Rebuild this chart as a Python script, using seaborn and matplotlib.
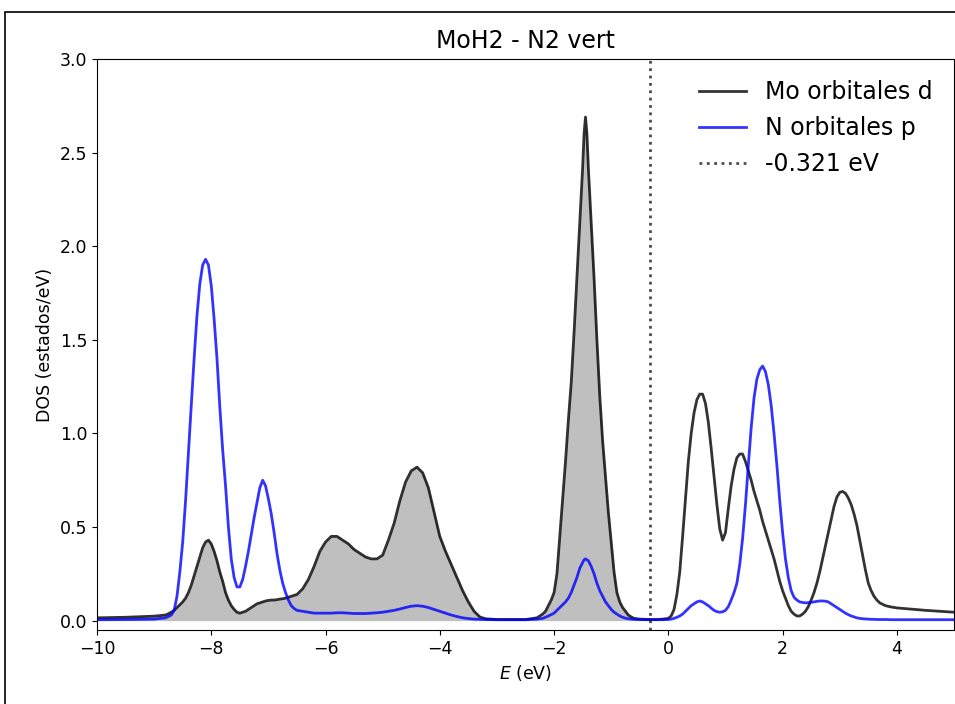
import matplotlib
matplotlib.use("Agg")
import matplotlib.pyplot as plt
import seaborn as sns
import numpy as np
from matplotlib.patches import Rectangle

# ---- data ----
energy = [
    -10.0, -9.5, -9.0, -8.8, -8.75,
    -8.70, -8.65, -8.60, -8.55, -8.50, -8.45, -8.40, -8.35, -8.30, -8.25,
    -8.20, -8.15, -8.10, -8.05, -8.00, -7.95, -7.90, -7.85, -7.80, -7.75,
    -7.70, -7.65, -7.60, -7.55, -7.50, -7.45, -7.40, -7.35, -7.30, -7.25,
    -7.20, -7.15, -7.10, -7.05, -7.00, -6.95, -6.90, -6.85, -6.80, -6.75,
    -6.70, -6.65, -6.60, -6.55, -6.50,
    -6.4, -6.3, -6.2, -6.1, -6.0, -5.9, -5.8, -5.7, -5.6, -5.5,
    -5.4, -5.3, -5.2, -5.1, -5.0, -4.9, -4.8, -4.7, -4.6, -4.5,
    -4.4, -4.3, -4.2, -4.1, -4.0, -3.9, -3.8, -3.7, -3.6, -3.5,
    -3.4, -3.3, -3.2,
    -3.0, -2.5, -2.3, -2.25,
    -2.20, -2.15, -2.10, -2.05, -2.00, -1.95, -1.90, -1.85, -1.80, -1.75,
    -1.70, -1.65, -1.60, -1.55, -1.50, -1.475, -1.45, -1.425, -1.40, -1.35,
    -1.30, -1.25, -1.20, -1.15, -1.10, -1.05, -1.00, -0.95, -0.90, -0.85,
    -0.80, -0.75, -0.70, -0.65, -0.60,
    -0.5, -0.321, -0.2, -0.1,
    0.00, 0.05, 0.10, 0.15, 0.20, 0.25, 0.30, 0.35, 0.40, 0.45,
    0.50, 0.55, 0.60, 0.65, 0.70, 0.75, 0.80, 0.85, 0.90, 0.95,
    1.00, 1.05, 1.10, 1.15, 1.20, 1.25, 1.30, 1.35, 1.40, 1.45,
    1.50, 1.55, 1.60, 1.65, 1.70, 1.75, 1.80, 1.85, 1.90, 1.95,
    2.00, 2.05, 2.10, 2.15, 2.20, 2.25, 2.30, 2.35, 2.40, 2.45,
    2.50, 2.55, 2.60, 2.65, 2.70, 2.75, 2.80, 2.85, 2.90, 2.95,
    3.00, 3.05, 3.10, 3.15, 3.20, 3.25, 3.30, 3.35, 3.40, 3.45,
    3.50, 3.55, 3.60, 3.65, 3.70,
    3.8, 3.9, 4.0, 4.5, 5.0,
]

mo_d = [
    0.015, 0.018, 0.024, 0.03, 0.037,
    0.045, 0.055, 0.07, 0.085, 0.10, 0.12, 0.15, 0.19, 0.24, 0.29,
    0.34, 0.39, 0.42, 0.43, 0.41, 0.37, 0.32, 0.26, 0.21, 0.15,
    0.11, 0.08, 0.06, 0.045, 0.04, 0.045, 0.05, 0.06, 0.07, 0.08,
    0.09, 0.095, 0.10, 0.105, 0.108, 0.11, 0.11, 0.112, 0.115, 0.117,
    0.12, 0.125, 0.13, 0.135, 0.14,
    0.17, 0.22, 0.29, 0.37, 0.42, 0.45, 0.45, 0.43, 0.41, 0.38,
    0.36, 0.34, 0.33, 0.33, 0.35, 0.43, 0.52, 0.64, 0.74, 0.80,
    0.82, 0.79, 0.71, 0.58, 0.45, 0.37, 0.30, 0.23, 0.16, 0.10,
    0.05, 0.02, 0.01,
    0.006, 0.006, 0.015, 0.025,
    0.035, 0.05, 0.08, 0.11, 0.15, 0.25, 0.45, 0.65, 0.85, 1.07,
    1.27, 1.54, 1.83, 2.12, 2.42, 2.60, 2.69, 2.60, 2.42, 2.12,
    1.83, 1.50, 1.20, 0.96, 0.77, 0.58, 0.42, 0.26, 0.15, 0.10,
    0.07, 0.05, 0.03, 0.02, 0.012,
    0.008, 0.006, 0.006, 0.008,
    0.012, 0.025, 0.06, 0.14, 0.26, 0.45, 0.65, 0.85, 1.00, 1.11,
    1.18, 1.21, 1.21, 1.16, 1.06, 0.92, 0.77, 0.62, 0.49, 0.43,
    0.47, 0.60, 0.72, 0.81, 0.87, 0.89, 0.89, 0.85, 0.80, 0.75,
    0.69, 0.64, 0.59, 0.53, 0.48, 0.43, 0.38, 0.33, 0.27, 0.21,
    0.16, 0.12, 0.08, 0.05, 0.035, 0.025, 0.025, 0.035, 0.05, 0.075,
    0.11, 0.15, 0.20, 0.26, 0.33, 0.40, 0.47, 0.54, 0.61, 0.66,
    0.685, 0.69, 0.68, 0.655, 0.62, 0.57, 0.51, 0.43, 0.35, 0.27,
    0.20, 0.16, 0.13, 0.11, 0.095,
    0.08, 0.073, 0.068, 0.055, 0.045,
]

n_p = [
    0.005, 0.006, 0.008, 0.015, 0.022,
    0.03, 0.055, 0.13, 0.26, 0.42, 0.64, 0.90, 1.15, 1.40, 1.63,
    1.80, 1.90, 1.93, 1.90, 1.79, 1.61, 1.40, 1.14, 0.91, 0.72,
    0.50, 0.33, 0.23, 0.18, 0.18, 0.22, 0.29, 0.37, 0.46, 0.55,
    0.63, 0.71, 0.75, 0.72, 0.65, 0.57, 0.47, 0.36, 0.27, 0.20,
    0.15, 0.11, 0.08, 0.065, 0.055,
    0.05, 0.045, 0.04, 0.04, 0.04, 0.04, 0.042, 0.042, 0.04, 0.038,
    0.038, 0.038, 0.04, 0.042, 0.045, 0.05, 0.055, 0.062, 0.07, 0.077,
    0.08, 0.077, 0.07, 0.06, 0.05, 0.04, 0.03, 0.022, 0.015, 0.011,
    0.008, 0.007, 0.006,
    0.005, 0.005, 0.008, 0.01,
    0.012, 0.018, 0.025, 0.032, 0.04, 0.055, 0.07, 0.085, 0.10, 0.12,
    0.15, 0.19, 0.23, 0.28, 0.31, 0.325, 0.33, 0.325, 0.32, 0.29,
    0.25, 0.20, 0.16, 0.13, 0.10, 0.08, 0.06, 0.045, 0.035, 0.025,
    0.018, 0.013, 0.01, 0.008, 0.007,
    0.006, 0.005, 0.005, 0.005,
    0.006, 0.008, 0.012, 0.018, 0.025, 0.035, 0.05, 0.065, 0.08, 0.09,
    0.10, 0.105, 0.10, 0.09, 0.08, 0.067, 0.055, 0.048, 0.045, 0.047,
    0.055, 0.075, 0.11, 0.15, 0.20, 0.30, 0.44, 0.62, 0.83, 1.03,
    1.19, 1.29, 1.34, 1.36, 1.33, 1.26, 1.15, 1.00, 0.83, 0.64,
    0.47, 0.33, 0.23, 0.16, 0.125, 0.11, 0.10, 0.097, 0.095, 0.096,
    0.098, 0.10, 0.103, 0.105, 0.105, 0.104, 0.10, 0.09, 0.08, 0.07,
    0.06, 0.05, 0.04, 0.032, 0.025, 0.02, 0.015, 0.012, 0.01, 0.009,
    0.008, 0.007, 0.007, 0.006, 0.006,
    0.006, 0.005, 0.005, 0.005, 0.005,
]

fermi = -0.321
labels = ["Mo orbitales d", "N orbitales p", "-0.321 eV"]
title = "MoH2 - N2 vert"
xticks = [-10, -8, -6, -4, -2, 0, 2, 4]
yticks = [0.0, 0.5, 1.0, 1.5, 2.0, 2.5, 3.0]

assert len(energy) == len(mo_d) == len(n_p)

E = np.array(energy)
mo = np.array(mo_d)
npo = np.array(n_p)

fig = plt.figure(figsize=(9.55, 7.04), dpi=100)
ax = fig.add_axes([97 / 955, 1 - 630 / 704, (954 - 97) / 955, (630 - 59) / 704])

mask = E <= fermi
ax.fill_between(E[mask], mo[mask], color="grey", alpha=0.5, lw=0)
sns.lineplot(x=E, y=mo, ax=ax, color="k", alpha=0.8, lw=2, label=labels[0])
sns.lineplot(x=E, y=npo, ax=ax, color="b", alpha=0.8, lw=2, label=labels[1])
ax.axvline(fermi, color="k", ls=":", lw=2, alpha=0.7, label=labels[2])

ax.set_xlim(-10, 5)
ax.set_ylim(-0.05, 3.0)
ax.set_xticks(xticks)
ax.set_yticks(yticks)
ax.tick_params(labelsize=12.5)
ax.set_xlabel("$E$ (eV)", fontsize=12.5)
ax.set_ylabel("DOS (estados/eV)", fontsize=12.5)
ax.set_title(title, fontsize=17, pad=8)
ax.legend(loc="upper right", frameon=False, fontsize=17)

fig.add_artist(Rectangle((5 / 955, -0.2), 1.5, 1.2 - 12 / 704, transform=fig.transFigure,
                         fill=False, lw=1.2, ec="k"))

fig.savefig("out.png", dpi=100)
